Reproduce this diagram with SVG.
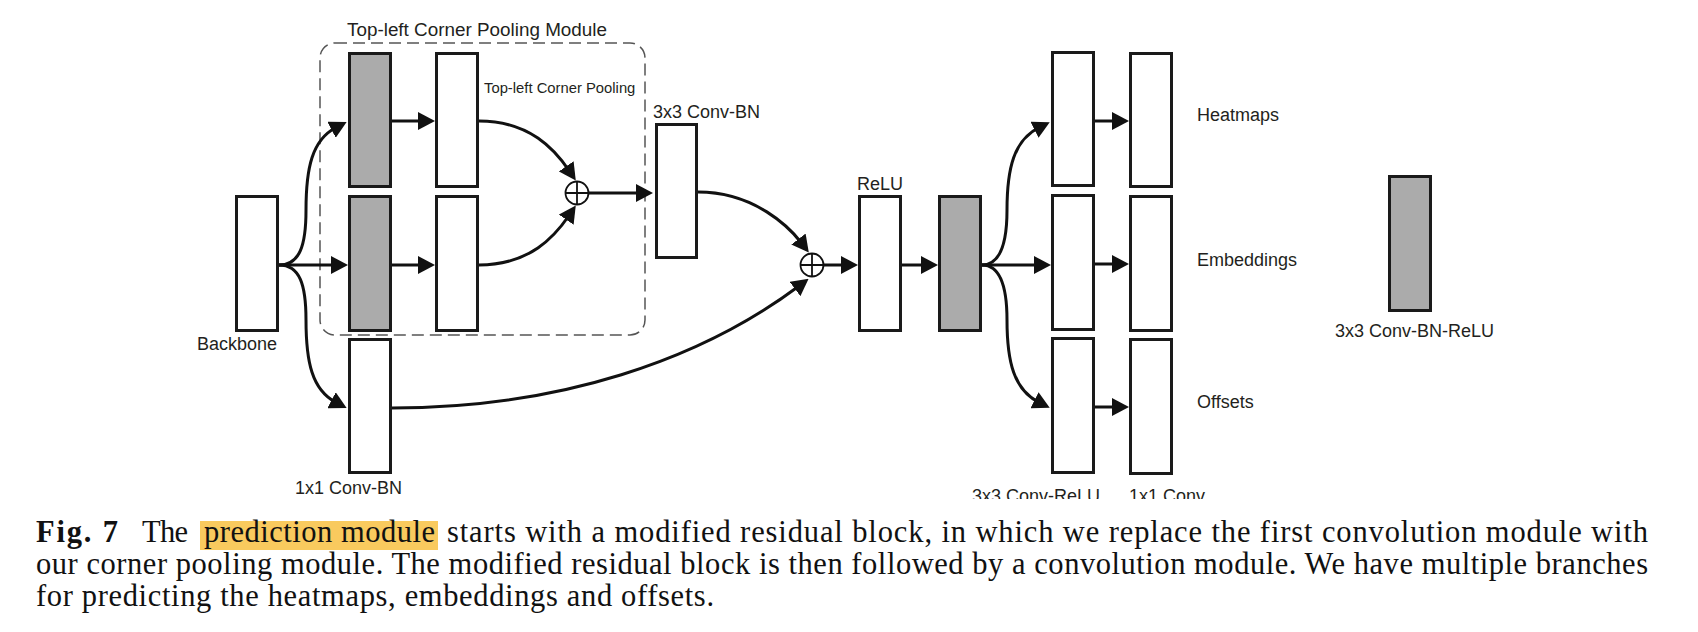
<svg xmlns="http://www.w3.org/2000/svg" width="1698" height="632" viewBox="0 0 1698 632">
<style>
.box{fill:#ffffff;stroke:#1a1a1a;stroke-width:3}
.gray{fill:#ababab;stroke:#1a1a1a;stroke-width:3}
.lbl{font-family:"Liberation Sans",Arial,sans-serif;font-size:18px;fill:#231f20}
.small{font-size:14.8px}
.con{fill:none;stroke:#111;stroke-width:3;marker-end:url(#ah)}
.plus{fill:none;stroke:#111;stroke-width:1.8}
.cap{font-family:"Liberation Serif","Times New Roman",serif;font-size:30.5px;fill:#111}
</style>
<defs>
<marker id="ah" markerUnits="userSpaceOnUse" markerWidth="17" markerHeight="18" refX="5" refY="9" orient="auto" viewBox="0 0 17 18">
<path d="M0,0 L17,9 L0,18 z" fill="#111"/>
</marker>
<clipPath id="cut"><rect x="0" y="0" width="1698" height="499"/></clipPath>
</defs>
<rect width="1698" height="632" fill="#ffffff"/>

<g id="module-frame">
<rect x="320" y="43" width="325" height="292" rx="15" fill="none" stroke="#555" stroke-width="1.5" stroke-dasharray="12 6"/>
<text class="lbl" x="347" y="36" textLength="260" lengthAdjust="spacingAndGlyphs">Top-left Corner Pooling Module</text>
</g>

<g id="backbone"><rect class="box" x="236.5" y="196.5" width="41" height="134"/><text class="lbl" x="197" y="350">Backbone</text></g>
<g id="conv-top"><rect class="gray" x="349.5" y="53.5" width="41" height="133"/></g>
<g id="conv-bottom"><rect class="gray" x="349.5" y="196.5" width="41" height="134"/></g>
<g id="pool-top"><rect class="box" x="436.5" y="53.5" width="41" height="133"/><text class="lbl small" x="484" y="93">Top-left Corner Pooling</text></g>
<g id="pool-bottom"><rect class="box" x="436.5" y="196.5" width="41" height="134"/></g>
<g id="conv1x1-bn"><rect class="box" x="349.5" y="339.5" width="41" height="133"/><text class="lbl" x="295" y="494">1x1 Conv-BN</text></g>
<g id="sum1"><circle class="plus" cx="577" cy="193" r="11.5"/><path class="plus" d="M565.5,193 H588.5 M577,181.5 V204.5"/></g>
<g id="conv3x3-bn"><rect class="box" x="656.5" y="124.5" width="40" height="133"/><text class="lbl" x="653" y="118">3x3 Conv-BN</text></g>
<g id="sum2"><circle class="plus" cx="812" cy="265" r="11.5"/><path class="plus" d="M800.5,265 H823.5 M812,253.5 V276.5"/></g>
<g id="relu"><rect class="box" x="859.5" y="196.5" width="41" height="134"/><text class="lbl" x="880" y="190" text-anchor="middle">ReLU</text></g>
<g id="conv-bn-relu"><rect class="gray" x="939.5" y="196.5" width="41" height="134"/></g>
<g id="cr-heat"><rect class="box" x="1052.5" y="52.5" width="41" height="133"/></g>
<g id="cr-emb"><rect class="box" x="1052.5" y="195.5" width="41" height="134"/></g>
<g id="cr-off"><rect class="box" x="1052.5" y="338.5" width="41" height="134"/></g>
<g id="c-heat"><rect class="box" x="1130.5" y="53.5" width="41" height="133"/><text class="lbl" x="1197" y="121">Heatmaps</text></g>
<g id="c-emb"><rect class="box" x="1130.5" y="196.5" width="41" height="134"/><text class="lbl" x="1197" y="266">Embeddings</text></g>
<g id="c-off"><rect class="box" x="1130.5" y="339.5" width="41" height="134"/><text class="lbl" x="1197" y="408">Offsets</text></g>
<g id="bottom-labels" clip-path="url(#cut)">
<text class="lbl" x="972" y="502">3x3 Conv-ReLU</text>
<text class="lbl" x="1129" y="502">1x1 Conv</text>
</g>
<g id="legend"><rect class="gray" x="1389.5" y="176.5" width="41" height="134"/><text class="lbl" x="1335" y="337">3x3 Conv-BN-ReLU</text></g>

<g id="connectors">
<path class="con" d="M279,265 L336,265"/>
<path class="con" d="M279,265 C300,265 306,245 306,210 C306,168 312,140 336,127.5"/>
<path class="con" d="M279,265 C300,265 306,285 306,320 C306,362 312,390 336,402.5"/>
<path class="con" d="M392,121 L423,121"/>
<path class="con" d="M392,265 L423,265"/>
<path class="con" d="M479,121 C530,121 555,150 569,170.5"/>
<path class="con" d="M479,265 C530,265 555,236 569,215.5"/>
<path class="con" d="M588.5,193 L641,193"/>
<path class="con" d="M698,192 C755,192 790,228 801.5,243"/>
<path class="con" d="M392,408 C560,408 700,360 799,286"/>
<path class="con" d="M823.5,265 L846,265"/>
<path class="con" d="M902,265 L926,265"/>
<path class="con" d="M982,265 L1039,265"/>
<path class="con" d="M982,265 C1000,265 1007,245 1007,210 C1007,168 1014,140 1039,127.5"/>
<path class="con" d="M982,265 C1000,265 1007,285 1007,320 C1007,362 1014,390 1039,402.5"/>
<path class="con" d="M1095,121 L1117,121"/>
<path class="con" d="M1095,264 L1117,264"/>
<path class="con" d="M1095,407 L1117,407"/>
</g>

<g id="caption">
<rect x="200" y="521" width="238" height="29" fill="#f9ca5e"/>
<text class="cap" x="36" y="542" font-weight="bold" textLength="82" lengthAdjust="spacing">Fig. 7</text>
<text class="cap" x="142" y="542" textLength="46" lengthAdjust="spacing">The</text>
<text class="cap" x="204" y="542" textLength="231" lengthAdjust="spacing">prediction module</text>
<text class="cap" x="447" y="542" textLength="1201" lengthAdjust="spacing">starts with a modified residual block, in which we replace the first convolution module with</text>
<text class="cap" x="36" y="574" textLength="1612" lengthAdjust="spacing">our corner pooling module. The modified residual block is then followed by a convolution module. We have multiple branches</text>
<text class="cap" x="36" y="606" textLength="678" lengthAdjust="spacing">for predicting the heatmaps, embeddings and offsets.</text>
</g>
</svg>
